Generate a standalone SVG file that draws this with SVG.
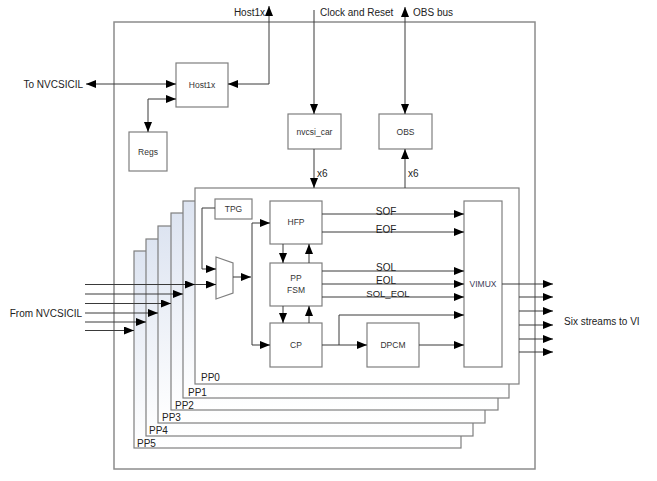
<svg xmlns="http://www.w3.org/2000/svg" width="657" height="481" viewBox="0 0 657 481">
<style>
.box{fill:#fff;stroke:#7f7f7f;stroke-width:1.2}
.pp{fill:url(#ppg);stroke:#7f7f7f;stroke-width:1.2}
.outer{fill:#fff;stroke:#8c8c8c;stroke-width:1.5}
.ln{fill:none;stroke:#3a3a3a;stroke-width:1}
.a{marker-end:url(#ah)}
.b{marker-start:url(#ah);marker-end:url(#ah)}
.t{font-family:"Liberation Sans",Arial,sans-serif;font-size:10px;fill:#222}
.s{font-family:"Liberation Sans",Arial,sans-serif;font-size:8.5px;fill:#333;text-anchor:middle}
.m{text-anchor:middle}
.e{text-anchor:end}
</style>
<defs>
<linearGradient id="ppg" x1="0" y1="0" x2="0" y2="1">
<stop offset="0" stop-color="#dde4f1"/>
<stop offset="1" stop-color="#ffffff"/>
</linearGradient>
<marker id="ah" markerUnits="userSpaceOnUse" markerWidth="10" markerHeight="8" viewBox="0 0 10 8" refX="10" refY="4" orient="auto-start-reverse">
<path d="M0,0 L10,4 L0,8 z" fill="#000"/>
</marker>
</defs>
<rect width="657" height="481" fill="#fff"/>
<g id="outer"><rect class="outer" x="114" y="22" width="421" height="447"/></g>
<g id="pp5"><rect class="pp" x="134" y="251" width="327" height="197"/><text class="t" x="137" y="447">PP5</text></g>
<g id="pp4"><rect class="pp" x="146" y="239" width="327" height="197"/><text class="t" x="149" y="434">PP4</text></g>
<g id="pp3"><rect class="pp" x="158" y="226" width="327" height="197"/><text class="t" x="162" y="421">PP3</text></g>
<g id="pp2"><rect class="pp" x="171" y="213" width="327" height="197"/><text class="t" x="175" y="409">PP2</text></g>
<g id="pp1"><rect class="pp" x="183" y="201" width="326" height="197"/><text class="t" x="188" y="396">PP1</text></g>
<g id="pp0"><rect class="box" x="195" y="188" width="324" height="196"/><text class="t" x="201" y="381">PP0</text></g>
<g id="host1x"><rect class="box" x="176" y="63" width="52" height="44"/><text class="s" x="202" y="88">Host1x</text></g>
<g id="regs"><rect class="box" x="129" y="132" width="38" height="39"/><text class="s" x="148" y="155">Regs</text></g>
<g id="nvcsi_car"><rect class="box" x="288" y="114" width="53" height="35"/><text class="s" x="314.5" y="134.5">nvcsi_car</text></g>
<g id="obs"><rect class="box" x="379" y="114" width="53" height="35"/><text class="s" x="405.5" y="134.5">OBS</text></g>
<g id="tpg"><rect class="box" x="215" y="199" width="37" height="20"/><text class="s" x="233.5" y="212">TPG</text></g>
<g id="mux"><path class="box" d="M216,257 L233,263 L233,293 L216,299 z"/></g>
<g id="hfp"><rect class="box" x="270" y="201" width="52" height="43"/><text class="s" x="296" y="225">HFP</text></g>
<g id="ppfsm"><rect class="box" x="270" y="263" width="52" height="43"/><text class="s" x="296" y="281">PP</text><text class="s" x="296" y="293">FSM</text></g>
<g id="cp"><rect class="box" x="270" y="323" width="52" height="44"/><text class="s" x="296" y="348">CP</text></g>
<g id="dpcm"><rect class="box" x="367" y="323" width="52" height="44"/><text class="s" x="393" y="348">DPCM</text></g>
<g id="vimux"><rect class="box" x="464" y="201" width="38" height="166"/><text class="s" x="483" y="287" style="fill:#3c3c5a">VIMUX</text></g>
<g id="connectors">
<path class="ln b" d="M269,6 L269,84 L228,84"/>
<path class="ln a" d="M314,10 L314,114"/>
<path class="ln b" d="M405,7 L405,114"/>
<path class="ln b" d="M86,84 L176,84"/>
<path class="ln b" d="M176,99 L148,99 L148,132"/>
<path class="ln a" d="M314,149 L314,188"/>
<path class="ln a" d="M405,188 L405,149"/>
<path class="ln a" d="M85,284.5 L195,284.5"/>
<path class="ln a" d="M195,284.5 L216,284.5"/>
<path class="ln a" d="M85,294 L183,294"/>
<path class="ln a" d="M85,303.5 L171,303.5"/>
<path class="ln a" d="M85,313 L158,313"/>
<path class="ln a" d="M85,322 L146,322"/>
<path class="ln a" d="M85,330.5 L134,330.5"/>
<path class="ln a" d="M215,208 L202,208 L202,269 L216,269"/>
<path class="ln a" d="M233,277 L251,277"/>
<path class="ln b" d="M270,223 L252,223 L252,345 L270,345"/>
<path class="ln a" d="M283,244 L283,263"/>
<path class="ln a" d="M309,263 L309,244"/>
<path class="ln a" d="M283,306 L283,323"/>
<path class="ln a" d="M309,323 L309,306"/>
<path class="ln a" d="M322,214 L464,214"/>
<path class="ln a" d="M322,232 L464,232"/>
<path class="ln a" d="M322,271 L464,271"/>
<path class="ln a" d="M322,284 L464,284"/>
<path class="ln a" d="M322,297 L464,297"/>
<path class="ln a" d="M322,345 L367,345"/>
<path class="ln a" d="M339,345 L339,315 L464,315"/>
<path class="ln a" d="M419,345 L464,345"/>
<path class="ln a" d="M502,284 L553,284"/>
<path class="ln a" d="M519,297 L553,297"/>
<path class="ln a" d="M519,311 L553,311"/>
<path class="ln a" d="M519,325 L553,325"/>
<path class="ln a" d="M519,339 L553,339"/>
<path class="ln a" d="M519,352 L553,352"/>
</g>
<g id="labels">
<text class="t e" x="265" y="16">Host1x</text>
<text class="t" x="320" y="16">Clock and Reset</text>
<text class="t" x="413" y="16">OBS bus</text>
<text class="t e" x="83" y="88">To NVCSICIL</text>
<text class="t e" x="82" y="317">From NVCSICIL</text>
<text class="t" x="564" y="325">Six streams to VI</text>
<text class="t" x="317" y="177">x6</text>
<text class="t" x="408" y="177">x6</text>
<text class="t m" x="386" y="214.5">SOF</text>
<text class="t m" x="386" y="232.5">EOF</text>
<text class="t m" x="386" y="271">SOL</text>
<text class="t m" x="386" y="283.5">EOL</text>
<text class="t m" x="388" y="296.5" style="font-size:9.5px">SOL_EOL</text>
</g>
</svg>
